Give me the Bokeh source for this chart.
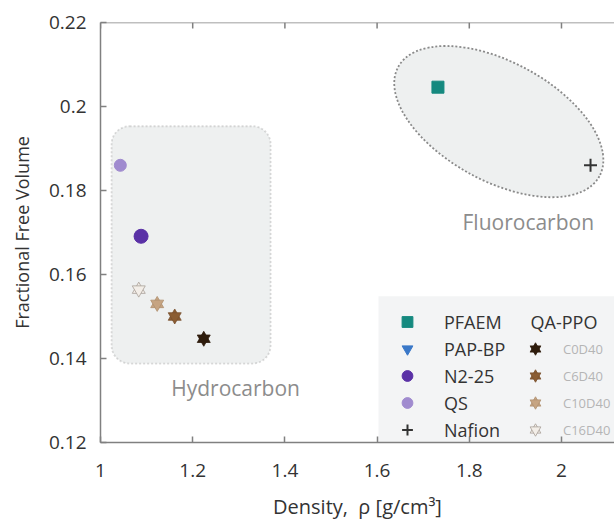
from bokeh.plotting import figure
from bokeh.models import (Range1d, FixedTicker, NumeralTickFormatter,
                          BoxAnnotation, Legend, LegendItem, Label, Span)
from bokeh.embed import file_html
from bokeh.resources import INLINE

NAN = float("nan")

# ---------------- data ----------------
membranes = ["PFAEM", "PAP-BP", "N2-25", "QS", "Nafion"]
pfaem_density = [1.732]
pfaem_ffv = [0.2046]
papbp_density = [NAN]   # shown in legend only
papbp_ffv = [NAN]
n225_density = [1.088]
n225_ffv = [0.1691]
qs_density = [1.043]
qs_ffv = [0.1860]
nafion_density = [2.063]
nafion_ffv = [0.1860]

qa_ppo_names = ["C0D40", "C6D40", "C10D40", "C16D40"]
qa_ppo_density = [1.224, 1.161, 1.123, 1.083]
qa_ppo_ffv = [0.1447, 0.1500, 0.1530, 0.1564]

x_ticks = [1.0, 1.2, 1.4, 1.6, 1.8, 2.0]
y_ticks = [0.12, 0.14, 0.16, 0.18, 0.20, 0.22]

# region annotations (data units)
hydro_box = dict(left=1.024, right=1.369, top=0.1953, bottom=0.1388)
fluoro_center = (1.864, 0.1964)
hydro_label_pos = (1.293, 0.1329)
fluoro_label_pos = (1.928, 0.1725)

FONT = "Open Sans"
AX = "#808080"
X0, X1 = 1.0, 2.115
Y0, Y1 = 0.12, 0.22
FRAME_H = 420

p = figure(width=614, height=525, output_backend="svg", toolbar_location=None,
           x_range=Range1d(X0, X1), y_range=Range1d(Y0, Y1),
           min_border_left=100, min_border_right=0, min_border_top=22,
           min_border_bottom=83)
p.outline_line_color = None
p.grid.visible = False
p.background_fill_color = "white"


def style_axis(ax, ticks):
    ax.ticker = FixedTicker(ticks=ticks)
    ax.formatter = NumeralTickFormatter(format="0.[00]")
    ax.axis_line_color = AX
    ax.axis_line_width = 1.5
    ax.major_tick_line_color = AX
    ax.major_tick_line_width = 1.5
    ax.major_tick_in = 6
    ax.major_tick_out = 0
    ax.minor_tick_line_color = None
    ax.major_label_text_font = FONT
    ax.major_label_text_font_size = "19px"
    ax.major_label_text_color = "#333333"
    ax.axis_label_text_font = FONT
    ax.axis_label_text_font_style = "normal"
    ax.axis_label_text_color = "#333333"


xa = p.xaxis[0]
ya = p.yaxis[0]
style_axis(xa, x_ticks)
style_axis(ya, y_ticks)
xa.major_label_standoff = 21
ya.major_label_standoff = 14
xa.axis_label = "Density,\u00a0\u00a0\u03c1\u00a0[g/cm\u00b3]"
ya.axis_label = "Fractional Free Volume"
xa.axis_label_text_font_size = "20px"
ya.axis_label_text_font_size = "18px"
xa.axis_label_standoff = 13
ya.axis_label_standoff = 12

# top frame line with inward ticks
p.add_layout(Span(location=Y1, dimension="width", line_color=AX, line_width=1.5))
tick_len = 6 * (Y1 - Y0) / FRAME_H
p.segment(x0=x_ticks, x1=x_ticks, y0=[Y1] * len(x_ticks),
          y1=[Y1 - tick_len] * len(x_ticks), line_color=AX, line_width=1.5)

# background regions
p.add_layout(BoxAnnotation(**hydro_box, fill_color="#eef0f0", fill_alpha=1.0,
                           line_color="#8a8a8a", line_dash="2 2", line_width=1.8,
                           border_radius=18, level="underlay"))
p.ellipse(x=[fluoro_center[0]], y=[fluoro_center[1]], width=229, height=119,
          width_units="screen", height_units="screen", angle=-28.5, angle_units="deg",
          fill_color="#eef0f0", line_color="#8a8a8a", line_dash="2 2", line_width=1.8)
# legend panel background
p.add_layout(BoxAnnotation(left=1.603, bottom=Y0, top=0.1548, fill_color="#f3f4f5",
                           fill_alpha=1.0, line_color=None, level="underlay"))

p.add_layout(Label(x=hydro_label_pos[0], y=hydro_label_pos[1], text="Hydrocarbon",
                   text_align="center", text_baseline="middle", text_font=FONT,
                   text_font_size="21px", text_color="#8c8c8c"))
p.add_layout(Label(x=fluoro_label_pos[0], y=fluoro_label_pos[1], text="Fluorocarbon",
                   text_align="center", text_baseline="middle", text_font=FONT,
                   text_font_size="21px", text_color="#8c8c8c"))

# membrane series
r_pfaem = p.scatter(pfaem_density, pfaem_ffv, marker="square", size=12,
                    fill_color="#15897f", line_color="#15897f")
r_papbp = p.scatter(papbp_density, papbp_ffv, marker="inverted_triangle", size=14,
                    fill_color="#3a78c8", line_color="#3a78c8")
r_n225 = p.scatter(n225_density, n225_ffv, marker="circle", size=14,
                   fill_color="#5a31a6", line_color="#5a31a6")
r_qs = p.scatter(qs_density, qs_ffv, marker="circle", size=12,
                 fill_color="#a08bcf", line_color="#a08bcf")
r_nafion = p.scatter(nafion_density, nafion_ffv, marker="cross", size=13,
                     line_color="#333333", line_width=2)
mem_renderers = [r_pfaem, r_papbp, r_n225, r_qs, r_nafion]

# QA-PPO series (six-pointed stars built from two triangles)
star_fill = ["#2e1c0c", "#8b5d33", "#c6a482", "#f3eee8"]
star_line = ["#2e1c0c", "#7a5230", "#b09070", "#a8a098"]
qa_renderers = []
for i in range(len(qa_ppo_names)):
    r1 = p.scatter([qa_ppo_density[i]], [qa_ppo_ffv[i]], marker="triangle", size=13,
                   fill_color=star_fill[i], line_color=star_line[i], line_width=0.8)
    r2 = p.scatter([qa_ppo_density[i]], [qa_ppo_ffv[i]], marker="inverted_triangle",
                   size=13, fill_color=star_fill[i], line_color=star_line[i],
                   line_width=0.8)
    qa_renderers.append([r1, r2])

leg1 = Legend(items=[LegendItem(label=n, renderers=[r]) for n, r in zip(membranes, mem_renderers)],
              location=(292, -1), orientation="vertical", glyph_width=30, glyph_height=27,
              label_height=27, spacing=0, padding=0, margin=0, label_standoff=22,
              background_fill_alpha=0, border_line_color=None,
              label_text_font=FONT, label_text_font_size="18px", label_text_color="#333333")
leg2 = Legend(items=[LegendItem(label=n, renderers=rs) for n, rs in zip(qa_ppo_names, qa_renderers)],
              location=(420, -1), orientation="vertical", glyph_width=30, glyph_height=27,
              label_height=27, spacing=0, padding=0, margin=0, label_standoff=13,
              background_fill_alpha=0, border_line_color=None,
              label_text_font=FONT, label_text_font_size="13px", label_text_color="#b5b5b5")
p.add_layout(leg1)
p.add_layout(leg2)
p.add_layout(Label(x=1.933, y=0.1486, text="QA-PPO", text_baseline="middle",
                   text_font=FONT, text_font_size="18px", text_color="#333333"))

open("out.html", "w").write(file_html(p, INLINE))
